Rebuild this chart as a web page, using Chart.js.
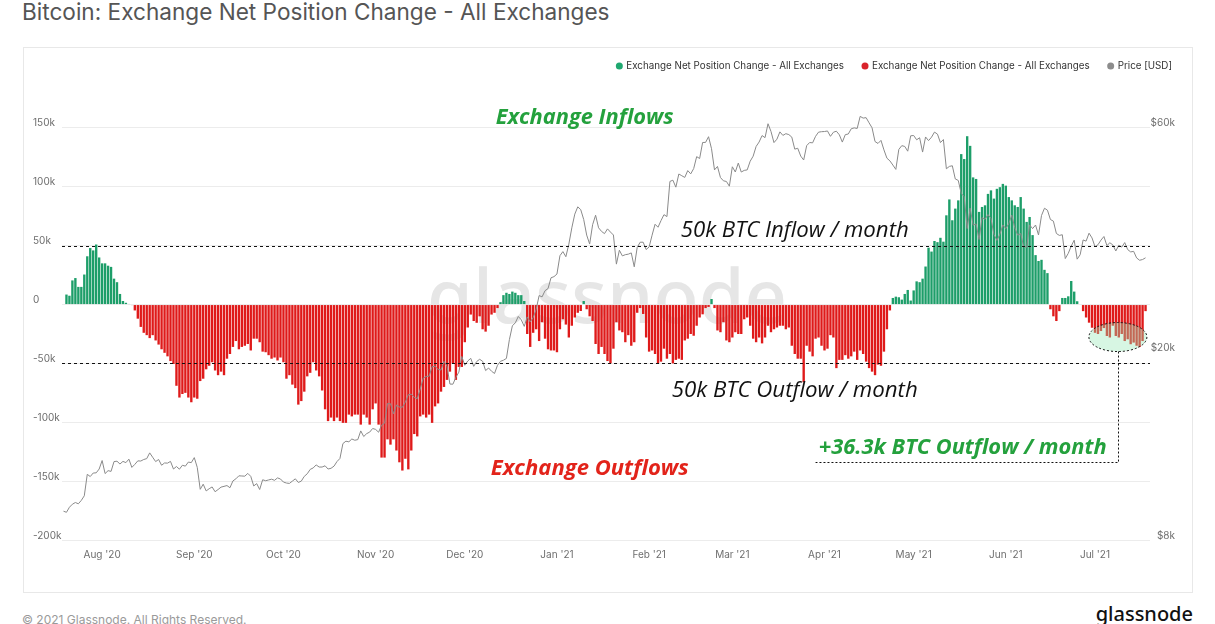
<!DOCTYPE html>
<html>
<head>
<meta charset="utf-8">
<script src="https://cdn.jsdelivr.net/npm/chart.js@4.4.1/dist/chart.umd.min.js"></script>
<style>
html,body{margin:0;padding:0;background:#fff;}
body{width:1215px;height:624px;overflow:hidden;position:relative;font-family:Inter,"Noto Sans",sans-serif;}
#title{position:absolute;left:22px;top:-2px;font-size:22.6px;line-height:27px;color:#555;white-space:nowrap;}
#card{position:absolute;left:23px;top:47px;width:1170px;height:546px;border:1px solid #e8e8e8;box-sizing:border-box;}
#wrap{position:absolute;left:22px;top:50px;width:1171px;height:542px;}
#copy{position:absolute;left:22px;top:612px;font-size:12px;line-height:15px;color:#9a9a9a;white-space:nowrap;}
#logo{position:absolute;right:22px;top:601px;font-family:"Noto Sans",sans-serif;font-size:20px;line-height:26px;color:#111;font-weight:500;}
</style>
</head>
<body>
<div id="title">Bitcoin: Exchange Net Position Change - All Exchanges</div>
<div id="card"></div>
<div id="wrap"><canvas id="c"></canvas></div>
<div id="copy">© 2021 Glassnode. All Rights Reserved.</div>
<div id="logo">glassnode</div>
<script>
// ---------- DATA ----------
const startDate = '2020-07-19';   // first category (daily)
const dayCount = 366;             // 2020-07-19 .. 2021-07-19
const monthNames = ['Jan','Feb','Mar','Apr','May','Jun','Jul','Aug','Sep','Oct','Nov','Dec'];
const seriesName = 'Exchange Net Position Change - All Exchanges';
const priceName = 'Price [USD]';
const leftTicksK = [-200,-150,-100,-50,0,50,100,150];
const rightTicksUSD = [8000,20000,60000];
const thresholdK = [50,-50];

// daily net position change, thousands of BTC (index 0 = 2020-07-19)
const netChangeK = [null,
 8.5,7.5,20.5,22.5,15,15,25.5,41,48,46,51,40,35,35,33,32,22,19,9,3,1.5,
 0.5,-0.5,
 -5,-12,-19,-24,-26,-28.5,-26,-30.5,-34,-38,-41,-44,-48,-50.5,-69,-79,-76,-75,-79,-83,-79,-80,
 -65,-63,-55,-52,-49,-56,-60,-57,-60,-46,-42,-36,-31,-38,-36,-35,-33.5,-39,-29,-29,-32,-40,
 -40.5,-43,-46,-45,-47.5,-45,-49,-63,-60,-68,-71,-85,-82,-74,-61,-58,-49,-56,-61,-73,-89,-99,-96,-99,
 -96,-99,-100.5,-100.5,-93.5,-95,-93.5,-93.5,-102,-93.5,-96,-102,-89,-84,-102,-130,-130,-114.5,-119,
 -114.5,-124,-134,-141,-131,-140,-124,-110,-112,-95,-93.5,-96,-93.5,-100.5,-86.5,-84,-74,-70,-64,-57,
 -50,-64,-53,-53,-32,-19.5,-8.5,-14,-15.5,-10,-21,-23,-18,-8.5,-7,-3,
 2,8,10,9,11,10,8,8,3,
 -25,-36,-24,-21,-31,-15,-29,-38,-39,-39,-40.5,-21,-12.5,-17,-28,-18,-11,-7,-5.5,3,-4,-10,-14,-33.5,
 -42,-36,-42,-48,-50,
 -37.5,-15,-22,-23.5,-32,-26,-35,-32,-7,-3,-8,-28,-40,-39,-42,-50,-48.5,-37.5,-46,-42,-50,-47,-46,-47,
 -30.5,-29,-25,-26.5,-18,-11,-8.3,-3,-2,4.7,-3,-22,-23.5,-15,-30.5,-32,-28,-23.5,-25,-25,-12.5,-11,-18,
 -29,-32,-28,-33,-28,-18,-23.5,-21,-19.5,-18,-18,-21,-19.5,-35,-42,-46,-46,-66,-35,-40,-44,-29,-28,-35,
 -39,-37.5,-26,-28,-54,-47,-47,-43,-46,-44,-40,-47,-39,-42,-48.5,-54,-57,-60,-51,-52,-40,-21,-5,
 5.6,6.7,6.2,4.2,9,12.4,3.4,12,19.7,19,22,32.3,48.3,45,54,53,56.7,53.4,75.8,89.3,71.6,81.5,88.5,127.8,
 123.6,143,134.8,108,106.7,78.7,82.9,84.3,94,97,90,98.3,99.7,102.5,101,91.3,88.5,84.3,82.9,91.3,81.5,
 70.2,74.4,59,42,37,38,29.5,26.7,
 -4,-10,-14,-5.6,
 5.6,5.6,7,20,11,2.8,
 null,
 -5.6,-11,-15.4,-19.7,-24,-25,-22.5,-20,-26.7,-28,-18,-26.7,-28,-25,-31,-29.5,-33.7,-32.3,-35,-36,-31,-5.6,
 null];

// daily BTC price, USD (index 0 = 2020-07-19)
const priceUSD = [
 9210,9160,9390,9530,9610,9550,9710,9930,11030,10910,11100,11110,11320,
 11800,11070,11230,11190,11740,11760,11600,11750,11680,11880,11410,11580,11780,11770,11860,11910,12250,
 11990,11740,11860,11530,11660,11650,11750,11320,11460,11310,11530,11480,11710,11680,
 11970,11410,10250,10510,10170,10280,10370,10130,10240,10360,10400,10440,10330,10680,10790,10950,10940,
 10930,11080,10920,10420,10540,10240,10740,10690,10730,10770,10710,10840,10780,
 10620,10570,10550,10670,10790,10600,10670,10920,11060,11300,11380,11550,11430,11430,11500,11320,11360,
 11480,11740,11920,12820,12970,12930,13110,13030,13070,13640,13270,13460,13560,13800,
 13740,13550,14030,14160,15590,15580,14830,15480,15330,15310,15700,16280,16320,16070,15960,16730,17650,
 17800,17820,18680,18710,18420,18370,19160,18730,17150,17140,17720,18180,19630,
 18800,19200,19450,18700,19150,19360,19170,18320,18550,18260,18060,18800,19170,19270,19440,21310,22800,
 23140,23870,23480,22740,23820,23240,23730,24710,26440,26270,27080,27360,28840,29000,
 29370,32130,32780,31970,33990,36820,39370,40800,40250,38350,35540,34010,37390,39160,36830,36180,35790,
 36630,36070,35550,30830,33000,32100,32290,32370,32570,30430,33470,34320,34320,33110,
 33520,35510,37470,36930,38140,39270,38900,46200,46480,44920,47910,47500,47110,48720,47940,49200,52150,
 51680,55890,55920,57490,54210,48880,49710,47090,46340,46190,45140,
 49630,48380,50540,48370,48760,48880,51000,52270,54820,56010,57810,57230,61260,59000,55860,56800,58870,
 57860,58350,58090,57380,54100,54340,52300,51300,55030,55880,55790,57600,58790,58920,
 58970,59130,57600,58760,59060,58020,56000,58080,58250,59770,60030,59860,63500,62970,63110,61530,60050,
 56150,55630,56470,53900,51760,51090,50050,49000,54020,55030,54820,53560,57750,
 57830,56630,57200,53330,57420,56400,57360,58800,58230,55860,56700,49150,49720,49880,46760,46430,43540,
 42900,36690,40530,37300,37530,34770,38700,38400,39290,38550,35660,34620,35680,37340,
 36690,37570,39190,36850,35520,35800,33590,33470,37350,36680,37330,35550,39100,40520,40140,38350,38050,
 35820,35480,35600,31680,32500,33670,34660,31590,32280,34700,34500,35870,35040,
 33570,33900,34670,35290,33750,34230,33860,32880,33810,33510,34260,33100,32730,32820,31780,31420,31530,31800];

// annotations (category index, value in k BTC)
const notes = [
 {text:'Exchange Inflows', idx:175.3, valK:158.9, color:'#24a13d', weight:700, width:178},
 {text:'50k BTC Inflow / month', idx:246, valK:62.9, color:'#111111', weight:400, width:228},
 {text:'50k BTC Outflow / month', idx:246, valK:-73.1, color:'#111111', weight:400, width:246},
 {text:'Exchange Outflows', idx:177, valK:-139.3, color:'#e2231a', weight:700, width:198},
 {text:'+36.3k BTC Outflow / month', idx:302.5, valK:-121.5, color:'#24a13d', weight:700, width:288}
];
const highlight = {idx:354.7, valK:-27.6, leaderValK:-133.4, leaderEndIdx:253};

// ---------- BUILD ----------
const dayLabels = [];
{
  const d0 = new Date(startDate + 'T00:00:00Z');
  for (let i = 0; i < dayCount; i++) {
    const d = new Date(d0.getTime() + i * 86400000);
    dayLabels.push(d.toISOString().slice(0,10));
  }
}
const GREEN = '#1d9e69', RED = '#df1a1a', GREY = '#8a8a8a';
const inflowData = netChangeK.map(v => (v !== null && v > 0) ? v : null);
const outflowData = netChangeK.map(v => (v !== null && v < 0) ? v : null);

const overlay = {
  id: 'overlay',
  beforeDatasetsDraw(chart) {
    const {ctx, chartArea: ca} = chart;
    ctx.save();
    let fs = 70;
    ctx.font = `500 ${fs}px "Noto Sans"`;
    fs = fs * 360 / ctx.measureText('glassnode').width;
    ctx.font = `500 ${fs}px "Noto Sans"`;
    ctx.fillStyle = '#e6e6e6';
    ctx.textAlign = 'center';
    ctx.textBaseline = 'middle';
    ctx.fillText('glassnode', (ca.left + ca.right) / 2 + 1, chart.scales.y.getPixelForValue(2));
    ctx.restore();
  },
  afterDatasetsDraw(chart) {
    const {ctx, chartArea: ca, scales: {x, y}} = chart;
    ctx.save();
    // threshold lines
    ctx.strokeStyle = '#111'; ctx.lineWidth = 1; ctx.setLineDash([3,3]);
    thresholdK.forEach(v => {
      const py = Math.round(y.getPixelForValue(v)) + 0.5;
      ctx.beginPath(); ctx.moveTo(ca.left, py); ctx.lineTo(ca.right, py); ctx.stroke();
    });
    // highlight ellipse
    const ex = x.getPixelForValue(highlight.idx), ey = y.getPixelForValue(highlight.valK);
    ctx.beginPath(); ctx.ellipse(ex, ey, 29, 14.5, 0, 0, Math.PI * 2);
    ctx.setLineDash([]);
    ctx.fillStyle = 'rgba(150,232,182,0.38)'; ctx.fill();
    ctx.setLineDash([2,2]); ctx.strokeStyle = '#111'; ctx.stroke();
    // leader
    const ly = Math.round(y.getPixelForValue(highlight.leaderValK)) + 0.5;
    const lx = Math.round(ex) + 0.5;
    const lx2 = x.getPixelForValue(highlight.leaderEndIdx);
    ctx.beginPath(); ctx.moveTo(lx, ey + 14.5); ctx.lineTo(lx, ly); ctx.lineTo(lx2, ly); ctx.stroke();
    ctx.setLineDash([]);
    // texts
    notes.forEach(n => {
      let fs = 20;
      ctx.font = `italic ${n.weight} ${fs}px "Open Sans"`;
      fs = fs * n.width / ctx.measureText(n.text).width;
      ctx.font = `italic ${n.weight} ${fs}px "Open Sans"`;
      ctx.fillStyle = n.color; ctx.textAlign = 'center'; ctx.textBaseline = 'middle';
      ctx.fillText(n.text, x.getPixelForValue(n.idx), y.getPixelForValue(n.valK));
    });
    ctx.restore();
  },
  afterDraw(chart) {
    // legend (right aligned)
    const {ctx} = chart;
    const items = chart.data.datasets.map(ds => ({text: ds.label, color: ds.legendColor}));
    ctx.save();
    ctx.font = '9.8px Inter';
    ctx.textBaseline = 'middle';
    ctx.textAlign = 'left';
    let xr = 1150; const yc = 16;
    for (let i = items.length - 1; i >= 0; i--) {
      const w = ctx.measureText(items[i].text).width;
      const tx = xr - w;
      ctx.fillStyle = '#333';
      ctx.fillText(items[i].text, tx, yc);
      ctx.beginPath(); ctx.arc(tx - 7, yc, 3.5, 0, Math.PI * 2);
      ctx.fillStyle = items[i].color; ctx.fill();
      xr = tx - 7 - 21;
    }
    ctx.restore();
  }
};

Chart.defaults.font.family = 'Inter';
new Chart(document.getElementById('c'), {
  type: 'bar',
  data: {
    labels: dayLabels,
    datasets: [
      {label: seriesName, data: inflowData, backgroundColor: GREEN, legendColor: '#1fa870',
       grouped: false, barPercentage: 0.8, categoryPercentage: 1, borderWidth: 0, yAxisID: 'y', order: 1},
      {label: seriesName, data: outflowData, backgroundColor: RED, legendColor: '#d9232b',
       grouped: false, barPercentage: 0.8, categoryPercentage: 1, borderWidth: 0, yAxisID: 'y', order: 1},
      {type: 'line', label: priceName, data: priceUSD, borderColor: GREY, backgroundColor: GREY, legendColor: '#8c8c8c',
       borderWidth: 1, pointRadius: 0, tension: 0, yAxisID: 'y2', order: 0}
    ]
  },
  options: {
    responsive: true, maintainAspectRatio: false, animation: false,
    layout: {padding: {left: 11, right: 18, top: 45, bottom: 0}},
    plugins: {legend: {display: false}, tooltip: {enabled: false}},
    scales: {
      x: {
        type: 'category', offset: true,
        grid: {display: false, drawTicks: false}, border: {display: false},
        ticks: {
          autoSkip: false, maxRotation: 0, minRotation: 0, padding: 9,
          color: '#6e6e6e', font: {size: 10},
          callback: (v, i) => {
            const s = dayLabels[i];
            if (s.slice(8) !== '01') return '';
            return monthNames[+s.slice(5,7) - 1] + " '" + s.slice(2,4);
          }
        },
        afterFit: s => { s.height = 52; }
      },
      y: {
        type: 'linear', position: 'left', min: -200, max: 178,
        afterBuildTicks: s => { s.ticks = leftTicksK.map(v => ({value: v})); },
        grid: {color: '#ececec', drawTicks: false}, border: {display: false},
        ticks: {crossAlign: 'far', padding: 0, labelOffset: -4.5, color: '#6e6e6e', font: {size: 10},
                callback: v => v === 0 ? '0' : v + 'k'},
        afterFit: s => { s.width = 29; }
      },
      y2: {
        type: 'logarithmic', position: 'right', min: 8000, max: 70500,
        afterBuildTicks: s => { s.ticks = rightTicksUSD.map(v => ({value: v})); },
        grid: {drawOnChartArea: false, drawTicks: false}, border: {display: false},
        ticks: {crossAlign: 'far', padding: 0, labelOffset: -4.5, color: '#6e6e6e', font: {size: 10},
                callback: v => '$' + (v / 1000) + 'k'},
        afterFit: s => { s.width = 25; }
      }
    }
  },
  plugins: [overlay]
});
</script>
</body>
</html>
